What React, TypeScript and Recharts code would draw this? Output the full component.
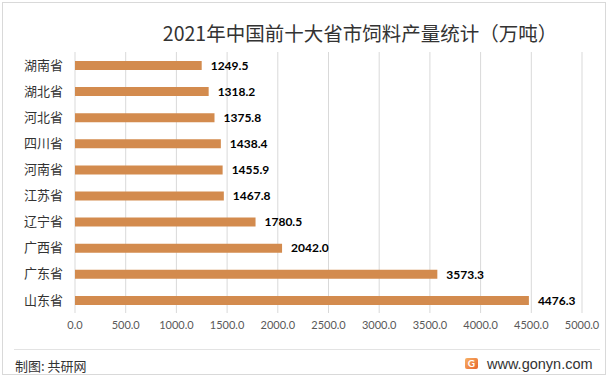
import { Bar, BarChart, CartesianGrid, LabelList, XAxis, YAxis } from "recharts"

const provinces = ["湖南省", "湖北省", "河北省", "四川省", "河南省", "江苏省", "辽宁省", "广西省", "广东省", "山东省"]
const output = [1249.5, 1318.2, 1375.8, 1438.4, 1455.9, 1467.8, 1780.5, 2042.0, 3573.3, 4476.3]
const xTicks = [0, 500, 1000, 1500, 2000, 2500, 3000, 3500, 4000, 4500, 5000]

const data = provinces.map((name, i) => ({ name, value: output[i] }))

const cjk = '"Noto Sans CJK SC", sans-serif'
const num = 'Lato, "Noto Sans", sans-serif'

export default function App() {
  return (
    <div
      style={{
        position: "absolute",
        left: 0,
        top: 0,
        width: 612,
        height: 381,
        background: "#fff",
        overflow: "hidden",
      }}
    >
      <div
        style={{
          position: "absolute",
          left: 2,
          top: 2,
          width: 602,
          height: 371,
          border: "1px solid #d9d9d9",
        }}
      />
      <div
        style={{
          position: "absolute",
          left: 0,
          width: 612,
          top: 20,
          textAlign: "center",
          paddingLeft: 108,
          boxSizing: "border-box",
          fontFamily: cjk,
          fontSize: 19.5,
          color: "#333",
          lineHeight: "26px",
        }}
      >
        2021年中国前十大省市饲料产量统计（万吨）
      </div>
      <div style={{ position: "absolute", left: 0, top: 0 }}>
        <BarChart
          width={612}
          height={381}
          data={data}
          layout="vertical"
          margin={{ top: 52, right: 30, left: 1, bottom: 48 }}
          barCategoryGap={0}
        >
          <CartesianGrid vertical={true} horizontal={false} stroke="#d9d9d9" />
          <XAxis
            type="number"
            domain={[0, 5000]}
            ticks={xTicks}
            interval={0}
            tickFormatter={(v) => v.toFixed(1)}
            tickLine={false}
            axisLine={false}
            height={20}
            tick={{ fontSize: 11, fill: "#595959", fontFamily: num }}
          />
          <YAxis
            type="category"
            dataKey="name"
            width={74}
            tickLine={false}
            axisLine={false}
            tickMargin={6}
            interval={0}
            tick={{ fontSize: 13, fill: "#333", fontFamily: cjk }}
          />
          <Bar dataKey="value" fill="#D38B4E" barSize={9} isAnimationActive={false}>
            <LabelList
              dataKey="value"
              position="right"
              offset={9}
              formatter={(v: number) => v.toFixed(1)}
              style={{ fontSize: 12, fontWeight: 700, fill: "#000", fontFamily: num }}
            />
          </Bar>
        </BarChart>
      </div>
      <div
        style={{
          position: "absolute",
          left: 14,
          width: 586,
          top: 349,
          borderTop: "1px solid #e3e3e3",
        }}
      />
      <div
        style={{
          position: "absolute",
          left: 15,
          top: 357,
          fontFamily: cjk,
          fontSize: 13,
          color: "#333",
          lineHeight: "18px",
        }}
      >
        制图: 共研网
      </div>
      <div
        style={{
          position: "absolute",
          left: 465,
          top: 358,
          width: 13,
          height: 11,
          borderRadius: 2,
          background: "linear-gradient(135deg, #f7b267 0%, #e8652b 100%)",
          color: "#fff",
          fontFamily: num,
          fontWeight: 700,
          fontSize: 10,
          lineHeight: "11px",
          textAlign: "center",
        }}
      >
        G
      </div>
      <div
        style={{
          position: "absolute",
          left: 487,
          top: 355,
          fontFamily: '"Liberation Sans", Arial, sans-serif',
          fontSize: 14.5,
          color: "#333",
          lineHeight: "18px",
        }}
      >
        www.gonyn.com
      </div>
    </div>
  )
}
